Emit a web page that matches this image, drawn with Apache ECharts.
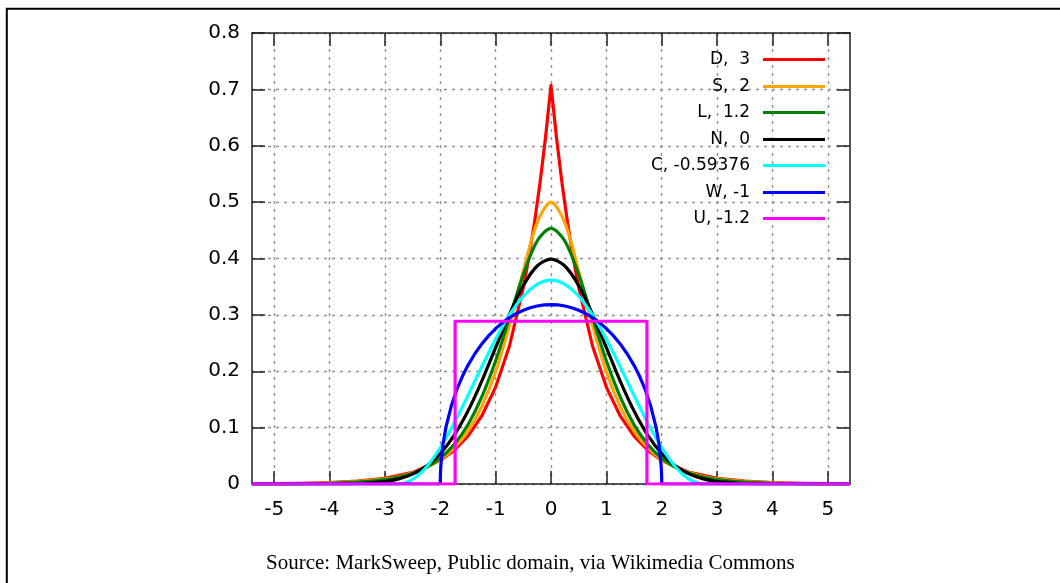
<!DOCTYPE html>
<html>
<head>
<meta charset="utf-8">
<script src="https://cdn.jsdelivr.net/npm/echarts@6/dist/echarts.min.js"></script>
<style>
html,body{margin:0;padding:0;background:#fff;}
#chart{width:1060px;height:583px;}
</style>
</head>
<body>
<div id="chart"></div>
<script>
// ---- data ----
var seriesNames = ['D,  3', 'S,  2', 'L,  1.2', 'N,  0', 'C, -0.59376', 'W, -1', 'U, -1.2'];
var seriesColors = ['#ff0000', '#ffa500', '#008000', '#000000', '#00ffff', '#0000ff', '#ff00ff'];
var xTickValues = [-5, -4, -3, -2, -1, 0, 1, 2, 3, 4, 5];

var xD = [-5.4,-5,-4.5,-4,-3.5,-3,-2.5,-2,-1.75,-1.5,-1.25,-1,-0.75,-0.5,-0.4,-0.3,-0.2,-0.1,0,
          0.1,0.2,0.3,0.4,0.5,0.75,1,1.25,1.5,1.75,2,2.5,3,3.5,4,4.5,5,5.4];
var yD = [0.0003,0.0006,0.0012,0.0025,0.0050,0.0102,0.0206,0.0418,0.0595,0.0848,0.1207,0.1719,0.2448,0.3487,0.4016,0.4626,0.5329,0.6138,0.7071,
          0.6138,0.5329,0.4626,0.4016,0.3487,0.2448,0.1719,0.1207,0.0848,0.0595,0.0418,0.0206,0.0102,0.0050,0.0025,0.0012,0.0006,0.0003];

var xGrid = [-5.4,-5,-4.5,-4,-3.5,-3,-2.75,-2.5,-2.25,-2,-1.75,-1.5,-1.25,-1,-0.75,-0.5,-0.25,0,
             0.25,0.5,0.75,1,1.25,1.5,1.75,2,2.25,2.5,2.75,3,3.5,4,4.5,5,5.4];
var yS = [0.0002,0.0004,0.0008,0.0019,0.0041,0.0090,0.0133,0.0197,0.0292,0.0431,0.0637,0.0940,0.1377,0.1993,0.2813,0.3775,0.4638,0.5000,
          0.4638,0.3775,0.2813,0.1993,0.1377,0.0940,0.0637,0.0431,0.0292,0.0197,0.0133,0.0090,0.0041,0.0019,0.0008,0.0004,0.0002];
var yL = [0.0001,0.0002,0.0005,0.0013,0.0032,0.0078,0.0122,0.0191,0.0296,0.0457,0.0699,0.1051,0.1545,0.2186,0.2947,0.3717,0.4310,0.4535,
          0.4310,0.3717,0.2947,0.2186,0.1545,0.1051,0.0699,0.0457,0.0296,0.0191,0.0122,0.0078,0.0032,0.0013,0.0005,0.0002,0.0001];
var yN = [0,0,0,0.0001,0.0009,0.0044,0.0091,0.0175,0.0317,0.0540,0.0863,0.1295,0.1826,0.2420,0.3011,0.3521,0.3867,0.3989,
          0.3867,0.3521,0.3011,0.2420,0.1826,0.1295,0.0863,0.0540,0.0317,0.0175,0.0091,0.0044,0.0009,0.0001,0,0,0];

var xC = [-5.4,-2.77,-2.5,-2.25,-2,-1.75,-1.5,-1.25,-1,-0.75,-0.5,-0.25,0,
          0.25,0.5,0.75,1,1.25,1.5,1.75,2,2.25,2.5,2.77,5.4];
var yC = [0,0,0.0082,0.0301,0.0643,0.1076,0.1568,0.2080,0.2569,0.2999,0.3331,0.3543,0.3615,
          0.3543,0.3331,0.2999,0.2569,0.2080,0.1568,0.1076,0.0643,0.0301,0.0082,0,0];

var xW = [-5.4,-2,-1.998,-1.99,-1.95,-1.9,-1.8,-1.7,-1.6,-1.5,-1.375,-1.25,-1.125,-1,-0.875,-0.75,-0.625,-0.5,-0.375,-0.25,-0.125,0,
          0.125,0.25,0.375,0.5,0.625,0.75,0.875,1,1.125,1.25,1.375,1.5,1.6,1.7,1.8,1.9,1.95,1.99,1.998,2,5.4];
var yW = [0,0,0.0142,0.0318,0.0707,0.0994,0.1387,0.1677,0.1910,0.2105,0.2311,0.2485,0.2632,0.2757,0.2862,0.2951,0.3024,0.3082,0.3127,0.3158,0.3177,0.3183,
          0.3177,0.3158,0.3127,0.3082,0.3024,0.2951,0.2862,0.2757,0.2632,0.2485,0.2311,0.2105,0.1910,0.1677,0.1387,0.0994,0.0707,0.0318,0.0142,0,0];

var xU = [-5.4,-1.732,-1.732,1.732,1.732,5.4];
var yU = [0,0,0.2887,0.2887,0,0];

var sourceText = 'Source: MarkSweep, Public domain, via Wikimedia Commons';

// ---- build ----
function pairs(xs, ys) { return xs.map(function (x, i) { return [x, ys[i]]; }); }
var seriesData = [pairs(xD, yD), pairs(xGrid, yS), pairs(xGrid, yL), pairs(xGrid, yN),
                  pairs(xC, yC), pairs(xW, yW), pairs(xU, yU)];
var seriesSmooth = [false, 0.3, 0.3, 0.3, 0.3, false, false];

var legendCenters = [60, 87, 113, 140, 166, 193, 219];
var legends = seriesNames.map(function (n, i) {
  return {
    data: [n], orient: 'vertical', align: 'right', right: 235, top: legendCenters[i] - 9,
    padding: 0, itemWidth: 62, itemHeight: 3, icon: 'rect', selectedMode: false,
    textStyle: { fontSize: 17, fontFamily: 'DejaVu Sans', color: '#000', padding: [0, 8, 0, 0] }
  };
});

var series = seriesNames.map(function (n, i) {
  return {
    name: n, type: 'line', data: seriesData[i], showSymbol: false, symbol: 'none',
    smooth: seriesSmooth[i], color: seriesColors[i],
    lineStyle: { width: 3.2, color: seriesColors[i], join: 'round' }, z: 3 + i,
    xAxisIndex: 0, yAxisIndex: 0
  };
});

var axisLineStyle = { color: '#222', width: 1.5 };
var labelFont = { fontSize: 20, fontFamily: 'DejaVu Sans', color: '#000' };
var gridLineStyle = { color: '#909090', width: 1.4, type: [3, 5] };

var chart = echarts.init(document.getElementById('chart'), null, { renderer: 'canvas' });
chart.setOption({
  animation: false,
  backgroundColor: '#fff',
  title: {
    text: sourceText, left: 266, top: 553, padding: 0,
    textStyle: { fontFamily: 'Liberation Serif', fontSize: 21, fontWeight: 'normal', color: '#000' }
  },
  legend: legends,
  grid: { left: 252, right: 210, top: 33, bottom: 99, containLabel: false },
  xAxis: [{
    type: 'value', min: -5.4, max: 5.4, position: 'bottom',
    axisLine: { show: true, onZero: false, lineStyle: axisLineStyle },
    axisTick: { show: true, inside: true, length: 13, customValues: xTickValues, lineStyle: axisLineStyle },
    axisLabel: Object.assign({ customValues: xTickValues, margin: 16 }, labelFont),
    splitLine: { show: true, lineStyle: gridLineStyle }
  }, {
    type: 'value', min: -5.4, max: 5.4, position: 'top',
    axisLine: { show: true, onZero: false, lineStyle: axisLineStyle },
    axisTick: { show: true, inside: true, length: 13, customValues: xTickValues, lineStyle: axisLineStyle },
    axisLabel: { show: false, customValues: xTickValues },
    splitLine: { show: false }
  }],
  yAxis: [{
    type: 'value', min: 0, max: 0.8, interval: 0.1, position: 'left',
    axisLine: { show: true, onZero: false, lineStyle: axisLineStyle },
    axisTick: { show: true, inside: true, length: 13, lineStyle: axisLineStyle },
    axisLabel: Object.assign({ margin: 12 }, labelFont),
    splitLine: { show: true, lineStyle: gridLineStyle }
  }, {
    type: 'value', min: 0, max: 0.8, interval: 0.1, position: 'right',
    axisLine: { show: true, onZero: false, lineStyle: axisLineStyle },
    axisTick: { show: true, inside: true, length: 13, lineStyle: axisLineStyle },
    axisLabel: { show: false },
    splitLine: { show: false }
  }],
  graphic: [
    { type: 'line', shape: { x1: 6, y1: 8.8, x2: 1060, y2: 8.8 }, style: { stroke: '#000', lineWidth: 2 }, silent: true },
    { type: 'line', shape: { x1: 6.8, y1: 8, x2: 6.8, y2: 583 }, style: { stroke: '#000', lineWidth: 2 }, silent: true }
  ],
  series: series
});
</script>
</body>
</html>
